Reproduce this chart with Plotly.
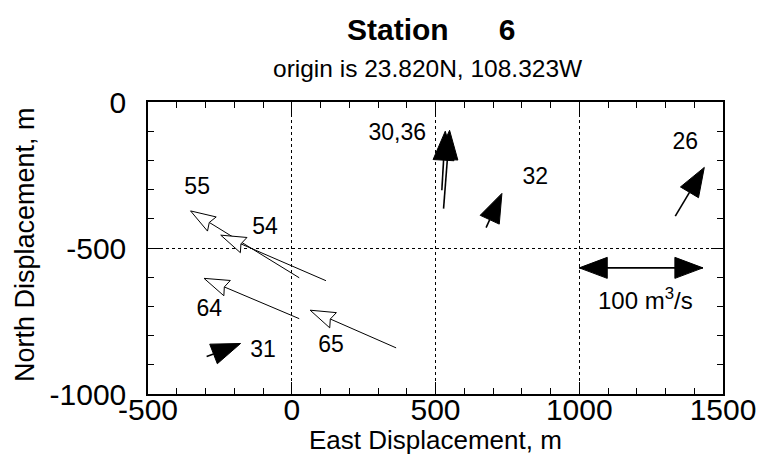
import numpy as np
import plotly.graph_objects as go

# ---------------- data ----------------
arrow_ids = ["55", "54", "64", "65", "31", "30", "36", "32", "26"]
tail_x = [26, 119, 26, 363, -296, 528, 522, 676, 1334]
tail_y = [-602, -612, -742, -842, -872, -365, -302, -430, -391]
tip_x = [-352, -247, -305, 64, -178, 549, 534, 731, 1435]
tip_y = [-373, -456, -604, -713, -827, -97, -100, -313, -224]
head_style = ["open", "open", "open", "open", "filled", "filled", "filled", "filled", "filled"]

label_text = ["55", "54", "64", "65", "31", "30,36", "32", "26"]
label_x = [-329, -93, -287, 137, -100, 367, 847, 1369]
label_y = [-295, -432, -713, -836, -853, -111, -261, -142]

scale_x = [1000, 1430]
scale_y = [-568, -568]
scale_text = ["100 m<sup>3</sup>/s"]
scale_text_x = [1230]
scale_text_y = [-689]

x_ticks = [-500, 0, 500, 1000, 1500]
x_tick_text = ["-500", "0", "500", "1000", "1500"]
y_ticks = [-1000, -500, 0]
y_tick_text = ["-1000", "-500", "0"]
x_range = [-500, 1500]
y_range = [-1000, 0]

# ---------------- geometry / style ----------------
W, H = 764, 466
ML, MR, MT, MB = 148, 41, 102, 72
xs = (W - ML - MR) / (x_range[1] - x_range[0])  # px per unit
ys = (H - MT - MB) / (y_range[1] - y_range[0])

FONT = "Liberation Sans, Arial, Helvetica, sans-serif"


def head(x0, y0, x1, y1, L, Wd, notch=0.0):
    dx = (x1 - x0) * xs
    dy = (y1 - y0) * ys
    n = np.hypot(dx, dy)
    ux, uy = dx / n, dy / n
    px, py = -uy, ux
    def pt(back, side):
        ox = -back * ux + side * px
        oy = -back * uy + side * py
        return x1 + ox / xs, y1 + oy / ys
    c1 = pt(L, Wd)
    c2 = pt(L, -Wd)
    nb = pt(L - notch, 0)
    tip = (x1, y1)
    if notch > 0:
        pts = [tip, c1, nb, c2, tip]
    else:
        pts = [tip, c1, c2, tip]
    return [p[0] for p in pts], [p[1] for p in pts], nb


fig = go.Figure()

for i in range(len(arrow_ids)):
    if head_style[i] == "open":
        hx, hy, nb = head(tail_x[i], tail_y[i], tip_x[i], tip_y[i], 25, 8.3, 3)
        fig.add_trace(go.Scatter(x=[tail_x[i], nb[0]], y=[tail_y[i], nb[1]], mode="lines",
                                 line=dict(color="black", width=1), hoverinfo="skip", showlegend=False))
        fig.add_trace(go.Scatter(x=hx, y=hy, mode="lines", fill="toself", fillcolor="white",
                                 line=dict(color="black", width=1), hoverinfo="skip", showlegend=False))
    else:
        hx, hy, nb = head(tail_x[i], tail_y[i], tip_x[i], tip_y[i], 29, 10.5)
        fig.add_trace(go.Scatter(x=[tail_x[i], nb[0]], y=[tail_y[i], nb[1]], mode="lines",
                                 line=dict(color="black", width=1.6), hoverinfo="skip", showlegend=False))
        fig.add_trace(go.Scatter(x=hx, y=hy, mode="lines", fill="toself", fillcolor="black",
                                 line=dict(color="black", width=1), hoverinfo="skip", showlegend=False))

# scale arrow (double-headed)
mid_x = (scale_x[0] + scale_x[1]) / 2
mid_y = (scale_y[0] + scale_y[1]) / 2
fig.add_trace(go.Scatter(x=scale_x, y=scale_y, mode="lines", line=dict(color="black", width=1.8),
                         hoverinfo="skip", showlegend=False))
for k in range(2):
    hx, hy, _ = head(mid_x, mid_y, scale_x[k], scale_y[k], 28, 10.5)
    fig.add_trace(go.Scatter(x=hx, y=hy, mode="lines", fill="toself", fillcolor="black",
                             line=dict(color="black", width=1), hoverinfo="skip", showlegend=False))

# labels
fig.add_trace(go.Scatter(x=label_x, y=label_y, text=label_text, mode="text",
                         textfont=dict(family=FONT, size=23, color="black"),
                         hoverinfo="skip", showlegend=False))
fig.add_trace(go.Scatter(x=scale_text_x, y=scale_text_y, text=scale_text, mode="text",
                         textfont=dict(family=FONT, size=24, color="black"),
                         hoverinfo="skip", showlegend=False))

axis_common = dict(
    showline=True, linecolor="black", linewidth=1.5, mirror="allticks",
    ticks="inside", ticklen=12, tickwidth=1.3, tickcolor="black",
    showgrid=True, gridcolor="black", gridwidth=1, griddash="dot",
    zeroline=False, automargin=False,
    tickfont=dict(family=FONT, size=30, color="black"),
    minor=dict(dtick=100, ticks="inside", ticklen=6, tickcolor="black", tickwidth=1, showgrid=False),
)

fig.update_layout(
    width=W, height=H, autosize=False,
    margin=dict(l=ML, r=MR, t=MT, b=MB, pad=0),
    paper_bgcolor="white", plot_bgcolor="white",
    xaxis=dict(range=x_range, tickvals=x_ticks, ticktext=x_tick_text, ticklabelstandoff=-12, **axis_common),
    yaxis=dict(range=y_range, tickvals=y_ticks, ticktext=y_tick_text, ticklabelstandoff=14, **axis_common),
    font=dict(family=FONT, color="black"),
    annotations=[
        dict(text="<b>Station\u00a0\u00a0\u00a0\u00a0\u00a0\u00a06</b>", xref="paper", yref="paper",
             x=(431 - ML) / (W - ML - MR), y=1 + (MT - 30) / (H - MT - MB),
             xanchor="center", yanchor="middle", showarrow=False,
             font=dict(family=FONT, size=30, color="black")),
        dict(text="origin is 23.820N, 108.323W", xref="paper", yref="paper",
             x=(428 - ML) / (W - ML - MR), y=1 + (MT - 68) / (H - MT - MB),
             xanchor="center", yanchor="middle", showarrow=False,
             font=dict(family=FONT, size=24.5, color="black")),
        dict(text="East Displacement, m", xref="paper", yref="paper",
             x=(435 - ML) / (W - ML - MR), y=-(440 - (H - MB)) / (H - MT - MB),
             xanchor="center", yanchor="middle", showarrow=False,
             font=dict(family=FONT, size=26, color="black")),
        dict(text="North Displacement, m", xref="paper", yref="paper", textangle=-90,
             x=-(ML - 25) / (W - ML - MR), y=(H - MB - 245) / (H - MT - MB),
             xanchor="center", yanchor="middle", showarrow=False,
             font=dict(family=FONT, size=27, color="black")),
    ],
)

fig.write_html("out.html", config={"displayModeBar": False},
               post_script="document.body.style.margin='0';document.body.style.padding='0';")
